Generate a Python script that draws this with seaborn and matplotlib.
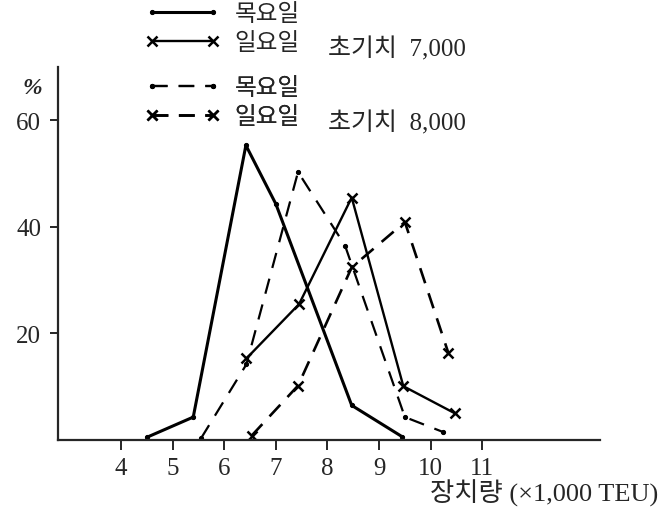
import matplotlib
matplotlib.use("Agg")
import matplotlib.pyplot as plt
import pandas as pd
import seaborn as sns

# volume (x1,000 TEU) vs share (%)
thu7_x = [4.5, 5.4, 6.42, 7.0, 8.47, 9.45]
thu7_y = [0.5, 4.3, 55.3, 44.3, 6.5, 0.6]
sun7_x = [6.43, 7.45, 8.47, 9.47, 10.47]
sun7_y = [15.3, 25.5, 45.5, 10.1, 5.0]
thu8_x = [5.55, 6.43, 7.43, 8.34, 9.5, 10.24]
thu8_y = [0.3, 14.2, 50.3, 36.5, 4.3, 1.5]
sun8_x = [6.53, 7.43, 8.47, 9.5, 10.34]
sun8_y = [0.8, 10.2, 32.4, 40.9, 16.4]

x_ticks = [4, 5, 6, 7, 8, 9, 10, 11]
y_ticks = [20, 40, 60]
day_labels = ["목요일", "일요일"]
group_labels = ["초기치  7,000", "초기치  8,000"]
x_title = "장치량 (×1,000 TEU)"

sns.set_style("ticks")
plt.rcParams["font.family"] = ["Liberation Serif", "Noto Sans CJK KR", "DejaVu Sans"]

W, H = 660, 510
fig = plt.figure(figsize=(W / 100, H / 100), dpi=100)
ax = fig.add_axes([58 / W, 1 - 441 / H, (600 - 58) / W, (441 - 68) / H])

dot = dict(marker="o", markersize=3, markeredgecolor="black")
cross = dict(marker="x", markersize=7, markeredgewidth=1.8, markeredgecolor="black")
series = [
    (thu7_x, thu7_y, dict(lw=2.2, linestyle="-", **dot)),
    (sun7_x, sun7_y, dict(lw=1.7, linestyle="-", **cross)),
    (thu8_x, thu8_y, dict(lw=1.6, linestyle=(0, (7, 5)), **dot)),
    (sun8_x, sun8_y, dict(lw=1.9, linestyle=(0, (6, 4)), **cross)),
]
handles = []
for xs, ys, style in series:
    df = pd.DataFrame({"x": xs, "y": ys})
    sns.lineplot(data=df, x="x", y="y", ax=ax, color="black", sort=False,
                 estimator=None, **style)
    handles.append(ax.lines[-1])

ax.set_xlim(2.78, 13.28)
ax.set_ylim(0, 70)
ax.set_xticks(x_ticks)
ax.set_xticklabels([str(t) for t in x_ticks])
ax.set_yticks(y_ticks)
ax.set_yticklabels([str(t) for t in y_ticks])
ax.set_xlabel("")
ax.set_ylabel("")
sns.despine(ax=ax)
for side in ["left", "bottom"]:
    ax.spines[side].set_linewidth(1.6)
ax.tick_params(axis="x", length=7, width=1.4, pad=5, labelsize=18)
ax.tick_params(axis="y", length=6, width=1.4, pad=6, labelsize=18)

fig.text(32 / W, 1 - 89 / H, "%", fontsize=17, ha="center", va="center",
         style="italic", fontweight="bold")
fig.text(658 / W, 1 - 480 / H, x_title, fontsize=19, ha="right", va="top")

kor = dict(family=["Noto Sans CJK KR"], size=17)
for i, yc in enumerate([29, 103]):
    leg = ax.legend(handles=handles[2 * i:2 * i + 2], labels=day_labels,
                    loc="center left", bbox_to_anchor=(145 / W, 1 - yc / H),
                    bbox_transform=fig.transFigure, frameon=False, numpoints=2,
                    handlelength=3.2, handletextpad=0.6, labelspacing=0.25,
                    borderpad=0, borderaxespad=0, prop=kor)
    ax.add_artist(leg)
    fig.text(328 / W, 1 - (yc + 20) / H, group_labels[i], fontsize=18,
             ha="left", va="center")

fig.savefig("out.png", dpi=100)
